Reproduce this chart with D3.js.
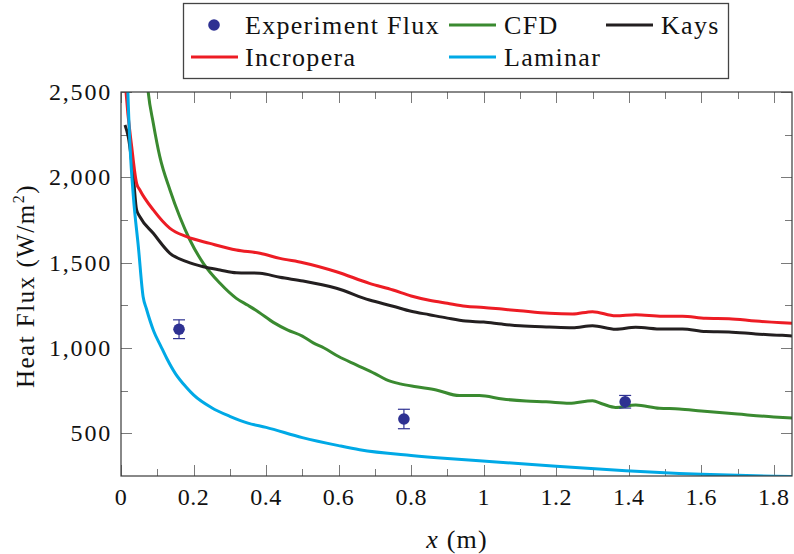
<!DOCTYPE html>
<html>
<head>
<meta charset="utf-8">
<script src="https://cdn.jsdelivr.net/npm/d3@7"></script>
<style>
  body { margin: 0; background: #fff; }
  svg text { font-family: 'Liberation Serif', 'Times New Roman', Times, 'DejaVu Serif', serif; fill: #111; }
</style>
</head>
<body>
<svg id="chart" width="794" height="554"></svg>
<script>
// Experimental measurements (x in m, heat flux in W/m^2, error bar half-height)
const expX = [0.16, 0.78, 1.39];
const expY = [1110, 584, 685];
const expErr = [55, 57, 37];

// CFD prediction
const cfdX = [0.065, 0.075, 0.089, 0.107, 0.135, 0.162, 0.19, 0.227, 0.273, 0.318, 0.35, 0.38, 0.42, 0.46, 0.5, 0.53, 0.56, 0.6, 0.65, 0.7, 0.731, 0.77, 0.814, 0.869, 0.933, 0.988, 1.052, 1.117, 1.172, 1.236, 1.30, 1.328, 1.364, 1.419, 1.484, 1.539, 1.6, 1.7, 1.8, 1.85];
const cfdY = [2750, 2500, 2317, 2121, 1926, 1769, 1633, 1496, 1379, 1291, 1250, 1210, 1150, 1105, 1070, 1030, 1000, 950, 900, 850, 815, 790, 773, 754, 721, 721, 701, 689, 685, 676, 691, 672, 652, 666, 647, 643, 631, 613, 596, 590];

// Kays correlation
const kaysX = [0.011, 0.02, 0.034, 0.043, 0.052, 0.089, 0.135, 0.181, 0.227, 0.273, 0.318, 0.383, 0.438, 0.502, 0.594, 0.685, 0.75, 0.8, 0.85, 0.9, 0.95, 1.0, 1.05, 1.1, 1.181, 1.245, 1.30, 1.364, 1.419, 1.493, 1.548, 1.612, 1.676, 1.75, 1.823, 1.85];
const kaysY = [2307, 2238, 2004, 1809, 1769, 1672, 1555, 1506, 1476, 1457, 1441, 1438, 1414, 1393, 1350, 1281, 1245, 1215, 1195, 1175, 1158, 1152, 1140, 1130, 1123, 1119, 1131, 1110, 1121, 1111, 1111, 1096, 1094, 1082, 1074, 1070];

// Incropera correlation
const incX = [0.008, 0.0138, 0.0295, 0.043, 0.052, 0.089, 0.135, 0.181, 0.245, 0.318, 0.383, 0.438, 0.502, 0.594, 0.685, 0.75, 0.8, 0.85, 0.9, 0.95, 1.0, 1.05, 1.1, 1.181, 1.245, 1.30, 1.364, 1.419, 1.493, 1.548, 1.612, 1.676, 1.75, 1.823, 1.85];
const incY = [2700, 2502, 2179, 1965, 1926, 1809, 1701, 1652, 1613, 1574, 1555, 1525, 1500, 1447, 1379, 1340, 1305, 1280, 1262, 1245, 1238, 1228, 1218, 1203, 1199, 1213, 1189, 1195, 1186, 1186, 1174, 1172, 1158, 1148, 1145];

// Laminar solution
const lamX = [0.015, 0.019, 0.025, 0.034, 0.048, 0.061, 0.07, 0.09, 0.11, 0.126, 0.15, 0.18, 0.2, 0.25, 0.3, 0.35, 0.4, 0.5, 0.6, 0.658, 0.8, 0.9, 1.025, 1.2, 1.392, 1.539, 1.6, 1.7, 1.8, 1.85];
const lamY = [2850, 2500, 2180, 1890, 1590, 1300, 1230, 1100, 1010, 940, 850, 770, 725, 650, 600, 560, 535, 475, 428, 404, 370, 352, 334, 307, 281, 265, 260, 254, 249, 247];

// Axis ticks
const xMajor = [0, 0.2, 0.4, 0.6, 0.8, 1, 1.2, 1.4, 1.6, 1.8];
const xMinor = [0.1, 0.3, 0.5, 0.7, 0.9, 1.1, 1.3, 1.5, 1.7];
const yMajor = [500, 1000, 1500, 2000, 2500];
const yMinor = [750, 1250, 1750, 2250];

const COLORS = { exp: "#2e3192", cfd: "#3a8a30", kays: "#231f20", inc: "#ed1c24", lam: "#00a9e6" };
const FONT = "'Liberation Serif', 'Times New Roman', Times, serif";

const svg = d3.select("#chart").attr("font-family", FONT);
const L = 121, R = 792, T = 92, B = 476;
const x = d3.scaleLinear().domain([0, 1.85]).range([L, R]);
const y = d3.scaleLinear().domain([250, 2500]).range([B, T]);

svg.append("defs").append("clipPath").attr("id", "plot-clip")
  .append("rect").attr("x", L).attr("y", T).attr("width", R - L).attr("height", B - T);

// Ticks on all four sides, pointing inward
const tickG = svg.append("g").attr("stroke", "#7a7a7a").attr("stroke-width", 1);
function inwardTicks(scale, values, len, orient) {
  values.forEach(v => {
    const p = Math.round(scale(v)) + 0.5;
    if (orient === "x") {
      tickG.append("line").attr("x1", p).attr("x2", p).attr("y1", B).attr("y2", B - len);
      tickG.append("line").attr("x1", p).attr("x2", p).attr("y1", T).attr("y2", T + len);
    } else {
      tickG.append("line").attr("y1", p).attr("y2", p).attr("x1", L).attr("x2", L + len);
      tickG.append("line").attr("y1", p).attr("y2", p).attr("x1", R).attr("x2", R - len);
    }
  });
}
inwardTicks(x, xMajor, 11, "x");
inwardTicks(x, xMinor, 7, "x");
inwardTicks(y, yMajor, 11, "y");
inwardTicks(y, yMinor, 7, "y");

// Curves
const line = d3.line().x(d => x(d[0])).y(d => y(d[1])).curve(d3.curveMonotoneX);
const curves = svg.append("g").attr("clip-path", "url(#plot-clip)");
[[cfdX, cfdY, COLORS.cfd], [kaysX, kaysY, COLORS.kays], [incX, incY, COLORS.inc], [lamX, lamY, COLORS.lam]]
  .forEach(([xs, ys, c]) => {
    curves.append("path")
      .datum(xs.map((v, i) => [v, ys[i]]))
      .attr("d", line)
      .attr("fill", "none")
      .attr("stroke", c)
      .attr("stroke-width", 3)
      .attr("stroke-linejoin", "round");
  });

// Experimental points with error bars
const pts = svg.append("g").attr("clip-path", "url(#plot-clip)");
expX.forEach((xv, i) => {
  const cx = x(xv), top = y(expY[i] + expErr[i]), bot = y(expY[i] - expErr[i]);
  const g = pts.append("g").attr("stroke", COLORS.exp).attr("stroke-width", 1.2);
  g.append("line").attr("x1", cx).attr("x2", cx).attr("y1", top).attr("y2", bot);
  g.append("line").attr("x1", cx - 6).attr("x2", cx + 6).attr("y1", top).attr("y2", top);
  g.append("line").attr("x1", cx - 6).attr("x2", cx + 6).attr("y1", bot).attr("y2", bot);
  pts.append("circle").attr("cx", cx).attr("cy", y(expY[i])).attr("r", 5.8).attr("fill", COLORS.exp);
});

// Frame
svg.append("rect").attr("x", L).attr("y", T).attr("width", R - L).attr("height", B - T)
  .attr("fill", "none").attr("stroke", "#3a3a3a").attr("stroke-width", 1.2);

// Tick labels
const fmtX = d3.format("~g");
const fmtY = d3.format(",");
svg.append("g").selectAll("text").data(xMajor).join("text")
  .attr("x", d => x(d)).attr("y", 505)
  .attr("text-anchor", "middle").attr("font-size", 24).attr("letter-spacing", 0.5).attr("font-family", FONT)
  .text(d => fmtX(d));
svg.append("g").selectAll("text").data(yMajor).join("text")
  .attr("x", 112).attr("y", d => y(d) + 8)
  .attr("text-anchor", "end").attr("font-size", 24).attr("letter-spacing", 1.8).attr("font-family", FONT)
  .text(d => fmtY(d));

// Axis titles
const xl = svg.append("text").attr("x", 457).attr("y", 548).attr("text-anchor", "middle")
  .attr("font-size", 26).attr("letter-spacing", 1.2).attr("font-family", FONT);
xl.append("tspan").attr("font-style", "italic").text("x");
xl.append("tspan").text(" (m)");

const yl = svg.append("text").attr("transform", "translate(34,286) rotate(-90)")
  .attr("text-anchor", "middle").attr("font-size", 25).attr("letter-spacing", 1.5).attr("font-family", FONT);
yl.append("tspan").text("Heat Flux (W/m");
yl.append("tspan").attr("font-size", 16).attr("dy", -10).text("2");
yl.append("tspan").attr("dy", 10).text(")");

// Legend
const lg = svg.append("g");
lg.append("rect").attr("x", 183.5).attr("y", 3.5).attr("width", 545).attr("height", 75)
  .attr("fill", "#fff").attr("stroke", "#444").attr("stroke-width", 1.3);
const legendItems = [
  { label: "Experiment Flux", type: "dot", color: COLORS.exp, mx: 214, tx: 245, row: 0 },
  { label: "CFD", type: "line", color: COLORS.cfd, mx: 449, tx: 504, row: 0 },
  { label: "Kays", type: "line", color: COLORS.kays, mx: 606, tx: 661, row: 0 },
  { label: "Incropera", type: "line", color: COLORS.inc, mx: 191, tx: 245, row: 1 },
  { label: "Laminar", type: "line", color: COLORS.lam, mx: 449, tx: 504, row: 1 }
];
const rowY = [25, 57];
legendItems.forEach(it => {
  const cy = rowY[it.row];
  if (it.type === "dot") {
    lg.append("circle").attr("cx", it.mx).attr("cy", cy).attr("r", 5.8).attr("fill", it.color);
  } else {
    lg.append("line").attr("x1", it.mx).attr("x2", it.mx + 47).attr("y1", cy).attr("y2", cy)
      .attr("stroke", it.color).attr("stroke-width", 3);
  }
  lg.append("text").attr("x", it.tx).attr("y", cy + 9).attr("font-size", 26).attr("font-family", FONT)
    .attr("letter-spacing", 1.3).text(it.label);
});
</script>
</body>
</html>
